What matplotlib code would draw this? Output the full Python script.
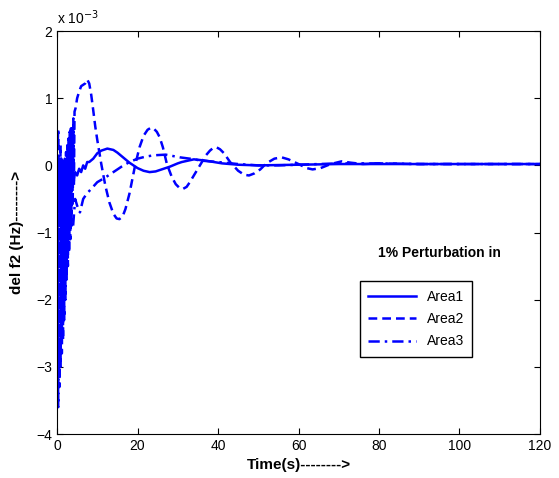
import matplotlib
matplotlib.use("Agg")
from matplotlib import pyplot as plt

plt.rcParams['font.family'] = ['Liberation Sans', 'DejaVu Sans']

# values in units of 1e-3 Hz
t1 = [0, 0.2, 0.4, 0.6, 0.8, 1.0, 1.3, 1.6, 1.9, 2.2, 2.5, 2.8, 3.1, 3.4, 3.7, 4.0,
      4.5, 5.0, 5.5, 6.0, 6.5, 7.0, 7.5, 8.0, 9.0, 10, 11, 12.5, 14, 15, 16, 17, 18,
      19, 20, 21.5, 23, 24.5, 26, 28, 30, 31, 34, 37, 41, 45, 50, 60, 70, 80, 100, 120]
area1 = [0, -0.5, 0.1, -0.6, 0.0, -0.6, -0.1, -0.5, -0.1, -0.45, -0.1, -0.35, -0.1,
         -0.3, -0.1, -0.25, -0.1, -0.15, -0.05, -0.1, 0.0, -0.05, 0.05, 0.05, 0.1,
         0.18, 0.22, 0.25, 0.23, 0.19, 0.14, 0.09, 0.04, 0.0, -0.04, -0.08, -0.1,
         -0.09, -0.06, -0.02, 0.03, 0.05, 0.09, 0.07, 0.03, 0.01, 0.0, 0.01, 0.02,
         0.02, 0.02, 0.02]

t2 = [0, 0.15, 0.3, 0.45, 0.6, 0.75, 0.9, 1.05, 1.2, 1.35, 1.5, 1.65, 1.8, 1.95,
      2.1, 2.25, 2.4, 2.55, 2.7, 2.85, 3.0, 3.15, 3.3, 3.45, 3.6, 3.75, 3.9, 4.05,
      4.2, 4.35, 4.6, 5.0, 5.5, 6.0, 6.5, 7.0, 7.5, 8.0, 8.5, 9.0, 9.5, 10, 11, 12,
      13, 14, 14.8, 15.5, 16.3, 17, 18, 19.4, 20.5, 21.5, 22.5, 23.3, 24, 24.8, 25.5,
      26.3, 27.3, 28.5, 29.5, 30.5, 31.3, 32.2, 33, 34, 35, 36, 37, 38, 38.8, 39.6,
      40.5, 41.5, 43, 45, 46.5, 47.7, 49, 50.5, 52, 54, 55.8, 57.5, 60, 62, 63.5,
      65.5, 68, 70.7, 73, 76, 80, 90, 100, 110, 120]
area2 = [0, -2.0, -3.6, 0.0, -3.3, 0.1, -3.0, 0.1, -2.8, 0.0, -2.6, 0.1, -2.3,
         0.1, -2.0, 0.2, -1.7, 0.3, -1.5, 0.4, -1.3, 0.5, -1.1, 0.55, -0.9, 0.6,
         -0.6, 0.7, -0.3, 0.8, 0.85, 1.0, 1.1, 1.18, 1.2, 1.22, 1.28, 1.22, 1.05,
         0.82, 0.58, 0.38, 0.02, -0.3, -0.55, -0.72, -0.79, -0.8, -0.76, -0.65,
         -0.42, 0.0, 0.27, 0.44, 0.53, 0.56, 0.55, 0.5, 0.42, 0.27, 0.02, -0.17,
         -0.28, -0.34, -0.35, -0.32, -0.25, -0.15, -0.05, 0.05, 0.15, 0.22, 0.26,
         0.27, 0.24, 0.18, 0.05, -0.08, -0.14, -0.15, -0.12, -0.06, 0.03, 0.1, 0.12,
         0.09, 0.02, -0.04, -0.06, -0.04, 0.02, 0.06, 0.04, 0.02, 0.03, 0.02, 0.02,
         0.02, 0.02]

t3 = [0, 0.3, 0.6, 0.9, 1.2, 1.5, 1.8, 2.1, 2.4, 2.7, 3.0, 3.5, 4.0, 4.5, 5.0,
      5.7, 6.5, 7.4, 8.5, 10, 12, 14, 16, 18, 20, 22, 24, 27, 30.5, 33, 36, 40,
      45, 50, 55, 60, 70, 80, 90, 100, 120]
area3 = [0, 0.55, -0.8, 0.3, -1.2, 0.0, -1.3, -0.3, -1.2, -0.5, -1.0, -0.7, -0.9,
         -0.5, -0.6, -0.7, -0.5, -0.42, -0.35, -0.25, -0.18, -0.1, -0.02, 0.05,
         0.1, 0.13, 0.15, 0.16, 0.12, 0.1, 0.07, 0.05, 0.02, 0.0, 0.0, 0.01, 0.03,
         0.03, 0.02, 0.02, 0.02]

labels = ['Area1', 'Area2', 'Area3']

fig = plt.figure(figsize=(5.59, 4.78), dpi=100)
ax = fig.add_axes([0.102, 0.092, 0.864, 0.843])

blue = (0, 0, 1)
ax.plot(t1, area1, color=blue, lw=1.8, ls='-', label=labels[0])
ax.plot(t2, area2, color=blue, lw=1.8, ls=(0, (3.5, 2)), label=labels[1])
ax.plot(t3, area3, color=blue, lw=1.8, ls=(0, (4.5, 2, 1, 2)), label=labels[2])

ax.set_xlim(0, 120)
ax.set_ylim(-4, 2)
ax.set_xticks(range(0, 121, 20))
ax.set_yticks(range(-4, 3))
ax.tick_params(direction='in', top=True, right=True, labelsize=10, length=4)

ax.text(0.0, 1.01, r'x 10$^{-3}$', transform=ax.transAxes, fontsize=10,
        ha='left', va='bottom')

ax.set_xlabel('Time(s)-------->', fontsize=11, fontweight='bold', labelpad=4)
ax.set_ylabel('del f2 (Hz)-------->', fontsize=11, fontweight='bold', labelpad=9)

ax.text(95, -1.3, '1% Perturbation in', fontsize=10, fontweight='bold',
        ha='center', va='center')

leg = ax.legend(loc='upper left', bbox_to_anchor=(0.613, 0.396), fontsize=10,
                fancybox=False, edgecolor='black', framealpha=1,
                handlelength=3.4, borderpad=0.6, labelspacing=0.6)
leg.get_frame().set_linewidth(1.0)

fig.savefig('out.png', dpi=100)
